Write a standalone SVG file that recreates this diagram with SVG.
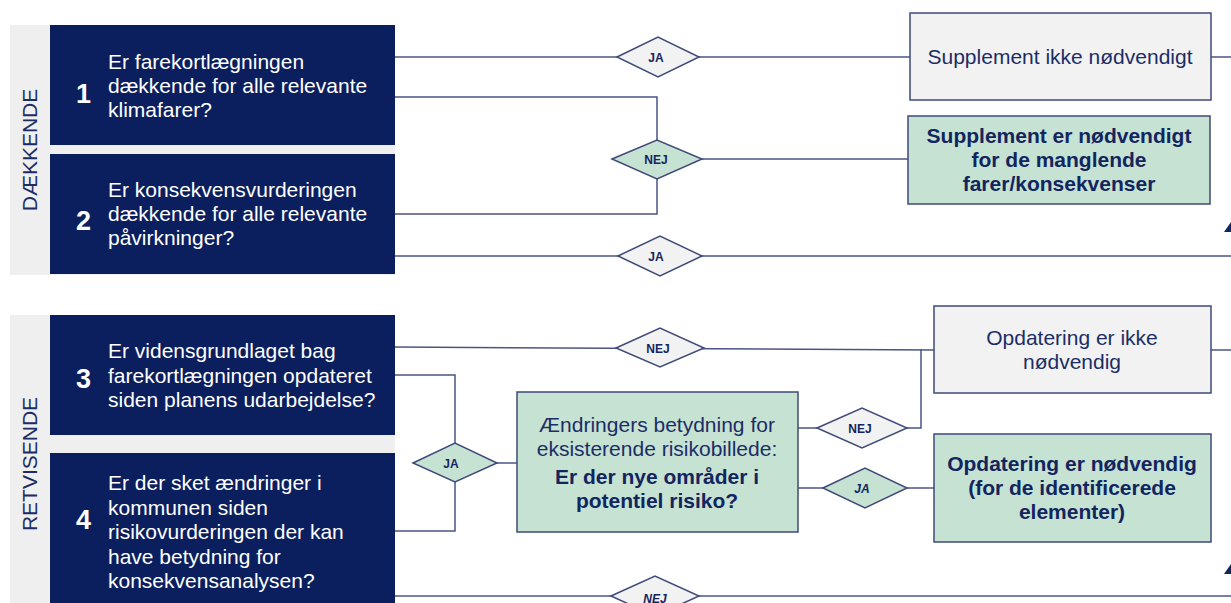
<svg xmlns="http://www.w3.org/2000/svg" width="1231" height="603" viewBox="0 0 1231 603">
<defs>
<style>
.band{fill:#efefef}
.q{fill:#0b1f5e}
.qt{font-family:"Liberation Sans",Arial,sans-serif;font-size:21px;fill:#ffffff}
.num{font-family:"Liberation Sans",Arial,sans-serif;font-size:27px;font-weight:bold;fill:#ffffff}
.side{font-family:"Liberation Sans",Arial,sans-serif;font-size:21px;fill:#1c2d66}
.box{fill:#f2f2f2;stroke:#3f4a78;stroke-width:1.5}
.gbox{fill:#c6e2d3;stroke:#3f4a78;stroke-width:1.5}
.bt{font-family:"Liberation Sans",Arial,sans-serif;font-size:21px;fill:#1c2d66;text-anchor:middle}
.bb{font-family:"Liberation Sans",Arial,sans-serif;font-size:21px;font-weight:bold;fill:#12255e;text-anchor:middle}
.dia{fill:#f2f2f2;stroke:#3f4a78;stroke-width:1.5}
.gdia{fill:#c6e2d3;stroke:#3f4a78;stroke-width:1.5}
.dt{font-family:"Liberation Sans",Arial,sans-serif;font-size:12px;font-weight:bold;fill:#12255e;text-anchor:middle}
.ln{fill:none;stroke:#4a5585;stroke-width:1.5}
.ah{fill:#12255e}
</style>
</defs>

<g id="band-daekkende">
<rect class="band" x="10" y="25" width="385" height="250"/>
<text class="side" transform="translate(37,150) rotate(-90)" text-anchor="middle">DÆKKENDE</text>
</g>
<g id="band-retvisende">
<rect class="band" x="10" y="315" width="385" height="288"/>
<text class="side" transform="translate(37,464) rotate(-90)" text-anchor="middle">RETVISENDE</text>
</g>

<g id="connectors">
<path class="ln" d="M395 57 H1231"/>
<path class="ln" d="M395 97 H657 V159 H908"/>
<path class="ln" d="M395 214 H657 V159"/>
<path class="ln" d="M395 256 H1231"/>
<path class="ln" d="M395 347 L934 350"/>
<path class="ln" d="M1211 350 H1231"/>
<path class="ln" d="M395 375 H455 V531 H395"/>
<path class="ln" d="M455 463 H517"/>
<path class="ln" d="M798 428 H921 V349"/>
<path class="ln" d="M798 488 H934"/>
<path class="ln" d="M395 596 H1231"/>
<polygon class="ah" points="1224,232 1231,222 1231,232"/>
<polygon class="ah" points="1224,574 1231,564 1231,574"/>
</g>

<g id="q1">
<rect class="q" x="50" y="25" width="345" height="120"/>
<text class="num" x="76" y="103">1</text>
<text class="qt"><tspan x="108" y="69">Er farekortlægningen</tspan><tspan x="108" y="93">dækkende for alle relevante</tspan><tspan x="108" y="117">klimafarer?</tspan></text>
</g>
<g id="q2">
<rect class="q" x="50" y="154" width="345" height="120"/>
<text class="num" x="76" y="230">2</text>
<text class="qt"><tspan x="108" y="197">Er konsekvensvurderingen</tspan><tspan x="108" y="221">dækkende for alle relevante</tspan><tspan x="108" y="245">påvirkninger?</tspan></text>
</g>
<g id="q3">
<rect class="q" x="50" y="315" width="345" height="120"/>
<text class="num" x="76" y="388">3</text>
<text class="qt"><tspan x="108" y="358">Er vidensgrundlaget bag</tspan><tspan x="108" y="383">farekortlægningen opdateret</tspan><tspan x="108" y="407">siden planens udarbejdelse?</tspan></text>
</g>
<g id="q4">
<rect class="q" x="50" y="453" width="345" height="160"/>
<text class="num" x="76" y="529">4</text>
<text class="qt"><tspan x="108" y="490">Er der sket ændringer i</tspan><tspan x="108" y="515">kommunen siden</tspan><tspan x="108" y="539">risikovurderingen der kan</tspan><tspan x="108" y="564">have betydning for</tspan><tspan x="108" y="588">konsekvensanalysen?</tspan></text>
</g>

<g id="d-ja1">
<polygon class="dia" points="617,57 658,37 699,57 658,77"/>
<text class="dt" x="656" y="62">JA</text>
</g>
<g id="d-nej1">
<polygon class="gdia" points="612,159 657,140 702,159 657,179"/>
<text class="dt" x="656" y="164">NEJ</text>
</g>
<g id="d-ja2">
<polygon class="dia" points="618,256 660,236 702,256 660,276"/>
<text class="dt" x="656" y="261">JA</text>
</g>
<g id="d-nej2">
<polygon class="dia" points="616,348 660,328 704,348 660,367"/>
<text class="dt" x="658" y="353">NEJ</text>
</g>
<g id="d-ja3">
<polygon class="gdia" points="413,463 455,443 497,463 455,482"/>
<text class="dt" x="451" y="468">JA</text>
</g>
<g id="d-nej3">
<polygon class="dia" points="817,428 862,408 907,428 862,448"/>
<text class="dt" x="860" y="433">NEJ</text>
</g>
<g id="d-ja4">
<polygon class="gdia" points="823,488 865,468 907,488 865,508"/>
<text class="dt" x="862" y="493" font-style="italic">JA</text>
</g>
<g id="d-nej4">
<polygon class="dia" points="611,596 655,576 699,596 655,616"/>
<text class="dt" x="655" y="603" font-style="italic">NEJ</text>
</g>

<g id="r-supp-ikke">
<rect class="box" x="910" y="13" width="301" height="87"/>
<text class="bt" x="1060" y="64">Supplement ikke nødvendigt</text>
</g>
<g id="r-supp-er">
<rect class="gbox" x="908" y="116" width="302" height="88"/>
<text class="bb"><tspan x="1059" y="143">Supplement er nødvendigt</tspan><tspan x="1059" y="167">for de manglende</tspan><tspan x="1059" y="191">farer/konsekvenser</tspan></text>
</g>
<g id="r-opd-ikke">
<rect class="box" x="934" y="306" width="277" height="87"/>
<text class="bt"><tspan x="1072" y="345">Opdatering er ikke</tspan><tspan x="1072" y="369">nødvendig</tspan></text>
</g>
<g id="r-opd-er">
<rect class="gbox" x="934" y="434" width="277" height="108"/>
<text class="bb"><tspan x="1072" y="471">Opdatering er nødvendig</tspan><tspan x="1072" y="495">(for de identificerede</tspan><tspan x="1072" y="519">elementer)</tspan></text>
</g>
<g id="m-aendringer">
<rect class="gbox" x="517" y="392" width="281" height="140"/>
<text class="bt"><tspan x="657" y="432">Ændringers betydning for</tspan><tspan x="657" y="456">eksisterende risikobillede:</tspan></text>
<text class="bb" font-size="22"><tspan x="657" y="484">Er der nye områder i</tspan><tspan x="657" y="508">potentiel risiko?</tspan></text>
</g>
</svg>
